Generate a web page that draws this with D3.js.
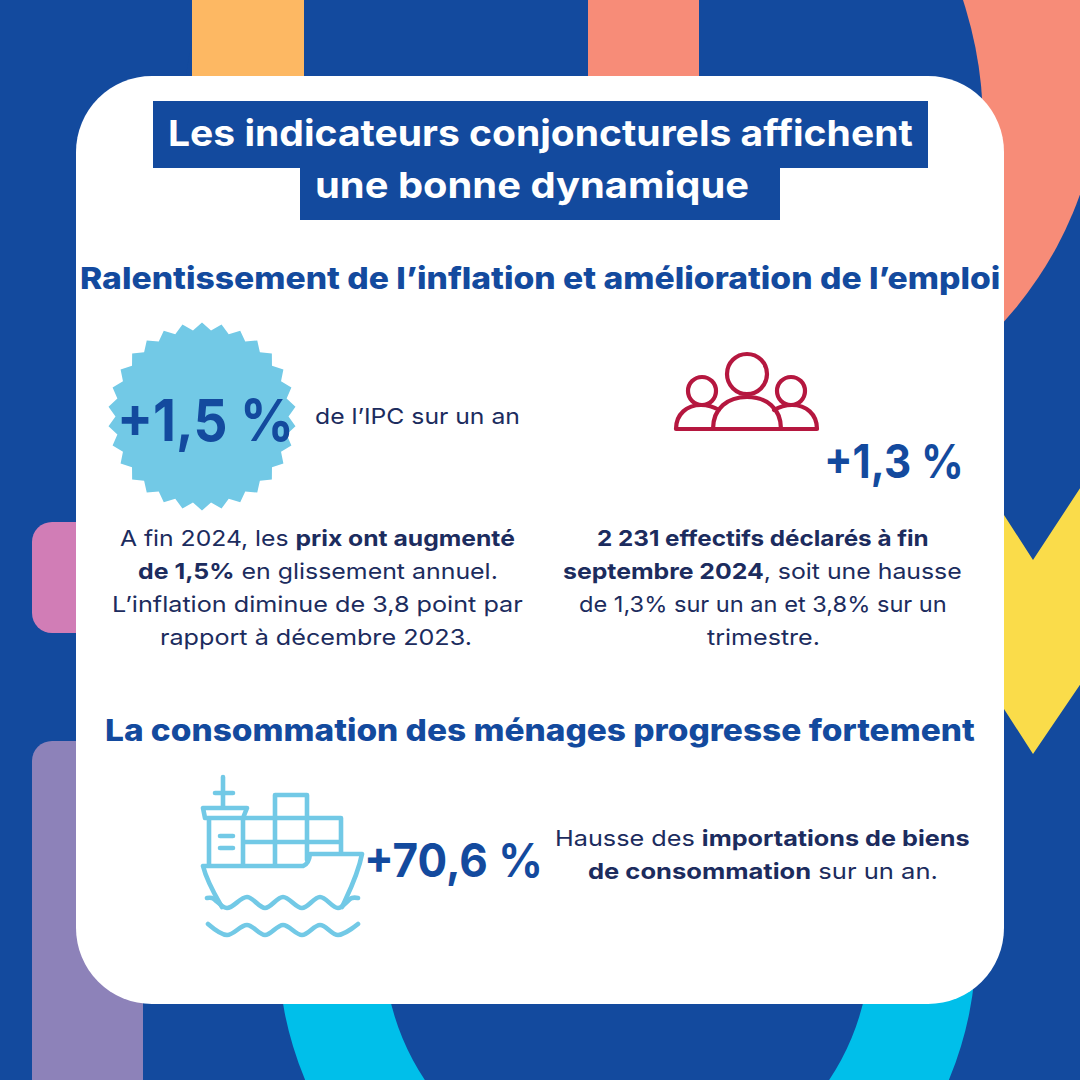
<!DOCTYPE html>
<html lang="fr">
<head>
<meta charset="utf-8">
<title>Les indicateurs conjoncturels</title>
<script src="https://cdn.jsdelivr.net/npm/d3@7"></script>
<style>
  html, body { margin: 0; padding: 0; background: #134a9e; }
  svg { display: block; }
  text { font-family: Inter, "Noto Sans", sans-serif; }
</style>
</head>
<body>
<div id="chart"></div>
<script>
// texts, one segment = [string, weight]
var titleLines = ["Les indicateurs conjoncturels affichent", "une bonne dynamique"];
var headings = ["Ralentissement de l’inflation et amélioration de l’emploi", "La consommation des ménages progresse fortement"];
var keyFigures = ["+1,5 %", "+1,3 %", "+70,6 %"];
var ipcNote = "de l’IPC sur un an";
var leftParagraph = [
  [["A fin 2024, les ", 400], ["prix ont augmenté", 700]],
  [["de 1,5%", 700], [" en glissement annuel.", 400]],
  [["L’inflation diminue de 3,8 point par", 400]],
  [["rapport à décembre 2023.", 400]]
];
var rightParagraph = [
  [["2 231 effectifs déclarés à fin", 700]],
  [["septembre 2024", 700], [", soit une hausse", 400]],
  [["de 1,3% sur un an et 3,8% sur un", 400]],
  [["trimestre.", 400]]
];
var importParagraph = [
  [["Hausse des ", 400], ["importations de biens", 700]],
  [["de consommation", 700], [" sur un an.", 400]]
];

// horizontal extents and baselines
var titleX = [[168, 913], [315, 749]];
var titleY = [146, 198];
var headingX = [[80, 1001], [105, 975]];
var headingY = [289, 741];
var leftX = [[120, 515], [138, 498], [112, 523], [160, 472]];
var rightX = [[597, 929], [563, 962], [579, 947], [707, 820]];
var paragraphY = [546, 579, 612, 645];
var importX = [[555, 970], [588, 938]];
var importY = [846, 879];

var navy = "#134a9e", ink = "#1c2c5e", sky = "#72c9e6", crimson = "#b5173f", salmon = "#f78c78";

var width = 1080, height = 1080;
var svg = d3.select("#chart").append("svg")
  .attr("width", width)
  .attr("height", height)
  .attr("viewBox", "0 0 " + width + " " + height);

// background shapes
svg.append("rect").attr("width", width).attr("height", height).attr("fill", navy);
svg.append("circle").attr("cx", 722).attr("cy", 67).attr("r", 380).attr("fill", salmon);
svg.append("circle").attr("cx", 583).attr("cy", 125).attr("r", 400).attr("fill", navy);

function rect(x, y, w, h, r, fill, parent) {
  return (parent || svg).append("rect")
    .attr("x", x).attr("y", y).attr("width", w).attr("height", h)
    .attr("rx", r).attr("fill", fill);
}
rect(192, 0, 112, 90, 0, "#fdb863");
rect(588, 0, 111, 90, 0, salmon);
rect(32, 522, 120, 111, 20, "#d17db6");
rect(32, 741, 111, 400, 20, "#8d82b9");

svg.append("path")
  .attr("transform", "translate(627,945)")
  .attr("d", d3.arc().innerRadius(243).outerRadius(349).startAngle(0).endAngle(2 * Math.PI)())
  .attr("fill", "#00bfea");

// yellow chevron, right edge
var chevron = [[1004, 515], [1033, 560], [1090, 473], [1090, 670], [1033, 754], [1004, 709]];
svg.append("path")
  .attr("d", d3.line()(chevron) + "Z")
  .attr("fill", "#fadc4a");

// white card
rect(76, 76, 928, 928, 76, "#fff");

// stretches a text line so it fills the [x0, x1] extent of the reference
function fitLine(segments, extent, baseline, size, fill) {
  var t = svg.append("text").attr("font-size", size).attr("fill", fill);
  segments.forEach(function(s) {
    t.append("tspan").attr("font-weight", s[1]).text(s[0]);
  });
  var sx = (extent[1] - extent[0]) / t.node().getComputedTextLength();
  t.attr("transform", "translate(" + extent[0] + "," + baseline + ") scale(" + sx + ",1)");
  return t;
}

// title bands
rect(153, 101, 775, 67, 0, navy);
rect(300, 168, 480, 52, 0, navy);
titleLines.forEach(function(line, i) {
  fitLine([[line, 700]], titleX[i], titleY[i], 36, "#fff");
});

headings.forEach(function(line, i) {
  fitLine([[line, 800]], headingX[i], headingY[i], 30, navy);
});

// starburst behind +1,5 %
var burstPoints = d3.range(60).map(function(i) { return [i * Math.PI / 30, i % 2 ? 86.5 : 94]; });
svg.append("path")
  .attr("transform", "translate(202,416.5)")
  .attr("d", d3.lineRadial().curve(d3.curveLinearClosed)(burstPoints))
  .attr("fill", sky);

fitLine([[keyFigures[0], 700]], [117, 294], 441, 58, navy);
fitLine([[ipcNote, 400]], [315, 520], 424, 22, ink);
fitLine([[keyFigures[1], 700]], [824, 964], 478, 47, navy);
fitLine([[keyFigures[2], 700]], [364, 543], 877, 46, navy);

leftParagraph.forEach(function(segs, i) { fitLine(segs, leftX[i], paragraphY[i], 22, ink); });
rightParagraph.forEach(function(segs, i) { fitLine(segs, rightX[i], paragraphY[i], 22, ink); });
importParagraph.forEach(function(segs, i) { fitLine(segs, importX[i], importY[i], 22, ink); });

// people icon
var people = svg.append("g")
  .attr("fill", "none").attr("stroke", crimson).attr("stroke-width", 4.2)
  .attr("stroke-linejoin", "round").attr("stroke-linecap", "round");
[[747, 374, 20], [702, 391, 14], [791, 391, 14]].forEach(function(c) {
  people.append("circle").attr("cx", c[0]).attr("cy", c[1]).attr("r", c[2]);
});
people.append("path").attr("d",
  "M676,429H817" +
  "M713,429C713,408 728,397 747,397C766,397 781,408 781,429" +
  "M676,429C676,414 687,405 701,405C708,405 714,407 719,410" +
  "M817,429C817,414 806,405 792,405C785,405 779,407 774,410");

// ship icon
var ship = svg.append("g")
  .attr("fill", "none").attr("stroke", sky).attr("stroke-width", 4.6)
  .attr("stroke-linejoin", "round").attr("stroke-linecap", "round");
ship.append("path").attr("d",
  "M223,777V807M215,793H233" +
  "M203,808H247L243,818H205Z" +
  "M209,818V866M243,818V866" +
  "M220,836H233M220,848H233" +
  "M243,818H341V854M243,842H341" +
  "M275,866V795H307V860M275,818H307" +
  "M203,866H303Q309,864 310,854H362" +
  "M203,866C207,882 215,895 222,907" +
  "M362,854C358,875 349,892 342,907");
var wave = d3.line().curve(d3.curveCatmullRom);
var waveTop = [[207, 898], [212, 898], [227, 908], [247, 897], [265, 908], [283, 897], [302, 908], [320, 897], [338, 908], [352, 898], [358, 898]];
var waveLow = [[208, 924], [227, 935], [247, 925], [265, 935], [283, 925], [302, 935], [320, 925], [338, 935], [358, 924]];
ship.append("path").attr("d", wave(waveTop));
ship.append("path").attr("d", wave(waveLow));
</script>
</body>
</html>
